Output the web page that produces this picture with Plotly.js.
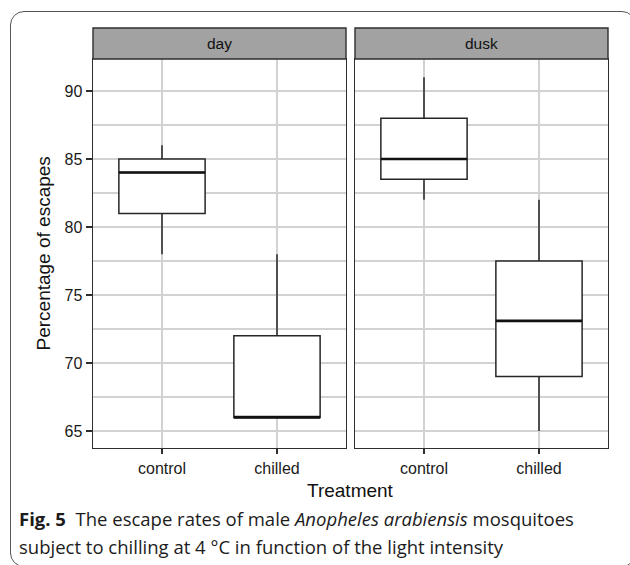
<!DOCTYPE html>
<html>
<head>
<meta charset="utf-8">
<script src="https://cdn.plot.ly/plotly-3.0.1.min.js"></script>
<style>
html,body{margin:0;padding:0;background:#fff;}
#wrap{position:relative;width:630px;height:565px;overflow:hidden;}
#chart{position:absolute;left:0;top:0;width:630px;height:565px;}
#frame{position:absolute;left:10px;top:11px;width:626px;height:556px;border:1.5px solid #555;border-radius:14px;box-sizing:border-box;pointer-events:none;}
</style>
</head>
<body>
<div id="wrap"><div id="chart"></div><div id="frame"></div></div>
<script>
// ---- data ----
const treatments = ['control', 'chilled'];
const panels = ['day', 'dusk'];
const dayLower  = [78, 66];
const dayQ1     = [81, 66];
const dayMedian = [84, 66];
const dayQ3     = [85, 72];
const dayUpper  = [86, 78];
const duskLower  = [82, 65];
const duskQ1     = [83.5, 69];
const duskMedian = [85, 73.1];
const duskQ3     = [88, 77.5];
const duskUpper  = [91, 82];
const yTicks = [65, 70, 75, 80, 85, 90];
const xTitle = 'Treatment';
const yTitle = 'Percentage of escapes';

// ---- layout constants ----
const W = 630, H = 565;
const px = v => v / W, py = v => 1 - v / H;
const panelX = [[93, 346], [355, 608]];
const panelTop = 59, panelBottom = 448, stripTop = 28;
const boxW = 0.75;
const lineCol = '#2e2e2e';
const gridCol = '#d2d2d2';
const axFont = {family: 'Liberation Sans, Arial, sans-serif', size: 16, color: '#1a1a1a'};

const xpos = treatments.map((_, i) => i + 1);
const stats = [
  {lo: dayLower, q1: dayQ1, med: dayMedian, q3: dayQ3, hi: dayUpper},
  {lo: duskLower, q1: duskQ1, med: duskMedian, q3: duskQ3, hi: duskUpper}
];

const traces = stats.map((s, p) => ({
  type: 'box',
  x: xpos,
  q1: s.q1, median: s.med, q3: s.q3,
  lowerfence: s.lo, upperfence: s.hi,
  width: boxW,
  whiskerwidth: 0,
  boxpoints: false,
  fillcolor: '#ffffff',
  line: {color: '#262626', width: 1.5},
  hoverinfo: 'skip',
  showlegend: false,
  xaxis: p === 0 ? 'x' : 'x2',
  yaxis: p === 0 ? 'y' : 'y2'
}));

const shapes = [];
const annotations = [];
stats.forEach((s, p) => {
  s.med.forEach((m, i) => {
    shapes.push({type: 'line', xref: p === 0 ? 'x' : 'x2', yref: p === 0 ? 'y' : 'y2',
      x0: xpos[i] - boxW / 2, x1: xpos[i] + boxW / 2, y0: m, y1: m,
      line: {color: '#111', width: 2.6}, layer: 'above'});
  });
});
panels.forEach((name, p) => {
  const [a, b] = panelX[p];
  shapes.push({type: 'rect', xref: 'paper', yref: 'paper',
    x0: px(a), x1: px(b), y0: py(panelTop), y1: py(stripTop),
    fillcolor: '#a2a2a2', line: {color: lineCol, width: 1.4}, layer: 'above'});
  annotations.push({xref: 'paper', yref: 'paper', x: px((a + b) / 2), y: py((panelTop + stripTop) / 2),
    xanchor: 'center', yanchor: 'middle', showarrow: false, text: name,
    font: {family: 'Liberation Sans, Arial, sans-serif', size: 15.5, color: '#111'}});
});
annotations.push({xref: 'paper', yref: 'paper', x: px((panelX[0][0] + panelX[1][1]) / 2), y: py(490),
  xanchor: 'center', yanchor: 'middle', showarrow: false, text: xTitle,
  font: {family: 'Liberation Sans, Arial, sans-serif', size: 19, color: '#111'}});
annotations.push({xref: 'paper', yref: 'paper', x: px(43), y: py((panelTop + panelBottom) / 2),
  xanchor: 'center', yanchor: 'middle', showarrow: false, text: yTitle, textangle: -90,
  font: {family: 'Liberation Sans, Arial, sans-serif', size: 19, color: '#111'}});
const capFont = {family: 'Open Sans, Noto Sans, sans-serif', size: 18.5, color: '#1c1c1c'};
annotations.push({xref: 'paper', yref: 'paper', x: px(17), y: py(518), xanchor: 'left', yanchor: 'middle',
  showarrow: false, font: capFont, align: 'left',
  text: '<b>Fig. 5</b>\u00a0\u00a0The escape rates of male <i>Anopheles arabiensis</i> mosquitoes'});
annotations.push({xref: 'paper', yref: 'paper', x: px(17), y: py(546), xanchor: 'left', yanchor: 'middle',
  showarrow: false, font: capFont, align: 'left',
  text: 'subject to chilling at 4\u00a0\u00b0C in function of the light intensity'});

function xax(p) {
  return {
    domain: [px(panelX[p][0]), px(panelX[p][1])],
    anchor: p === 0 ? 'y' : 'y2',
    range: [0.4, 2.6],
    tickmode: 'array', tickvals: xpos, ticktext: treatments,
    showgrid: true, gridcolor: gridCol, gridwidth: 1.2,
    ticks: 'outside', ticklen: 5, tickwidth: 1.3, tickcolor: lineCol,
    showline: true, mirror: true, linecolor: lineCol, linewidth: 1.4,
    zeroline: false, tickfont: axFont, fixedrange: true
  };
}
function yax(p) {
  return {
    domain: [py(panelBottom), py(panelTop)],
    anchor: p === 0 ? 'x' : 'x2',
    range: [63.75, 92.35],
    tickmode: 'array', tickvals: yTicks,
    showticklabels: p === 0,
    ticks: p === 0 ? 'outside' : '', ticklen: 6, tickwidth: 1.3, tickcolor: lineCol,
    showgrid: true, gridcolor: gridCol, gridwidth: 1.2,
    minor: {dtick: 2.5, tick0: 65, showgrid: true, gridcolor: gridCol, gridwidth: 1.2, ticks: ''},
    showline: true, mirror: true, linecolor: lineCol, linewidth: 1.4,
    zeroline: false, tickfont: axFont, fixedrange: true
  };
}

const layout = {
  width: W, height: H,
  margin: {l: 0, r: 0, t: 0, b: 0},
  paper_bgcolor: '#ffffff', plot_bgcolor: '#ffffff',
  showlegend: false,
  xaxis: xax(0), xaxis2: xax(1),
  yaxis: yax(0), yaxis2: Object.assign(yax(1), {matches: 'y'}),
  shapes: shapes, annotations: annotations
};

Plotly.newPlot('chart', traces, layout, {displayModeBar: false, staticPlot: true});
</script>
</body>
</html>
